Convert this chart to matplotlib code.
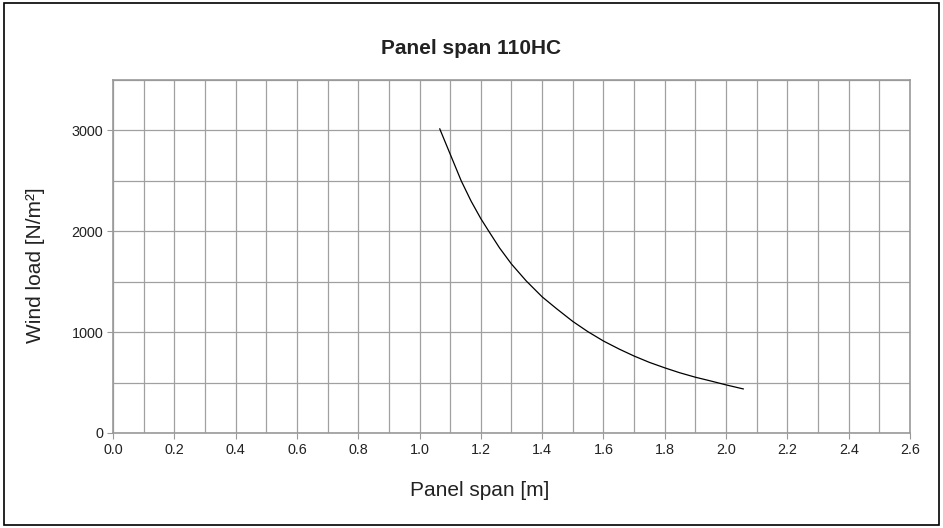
import matplotlib
matplotlib.use("Agg")
import matplotlib.pyplot as plt
from matplotlib.patches import Rectangle
from matplotlib.ticker import MultipleLocator, FormatStrFormatter

plt.rcParams['font.family'] = ['Liberation Sans', 'DejaVu Sans']

span = [1.066, 1.100, 1.136, 1.168, 1.200, 1.226, 1.261, 1.300, 1.348, 1.400,
        1.446, 1.500, 1.549, 1.600, 1.652, 1.700, 1.750, 1.800, 1.848, 1.900,
        1.951, 2.000, 2.056]
load = [3015, 2765, 2500, 2300, 2125, 2000, 1835, 1675, 1508, 1350,
        1235, 1106, 1005, 912, 831, 763, 700, 646, 598, 553,
        515, 477, 437]

title = "Panel span 110HC"
xlabel = "Panel span [m]"
ylabel = "Wind load [N/m²]"

fig = plt.figure(figsize=(9.43, 5.28), dpi=100)
ax = fig.add_axes([113/943, 95/528, 797/943, 353/528])

ax.plot(span, load, color='black', lw=0.9, solid_joinstyle='round')
ax.set_xlim(0, 2.6)
ax.set_ylim(0, 3500)
ax.xaxis.set_major_locator(MultipleLocator(0.2))
ax.xaxis.set_minor_locator(MultipleLocator(0.1))
ax.yaxis.set_major_locator(MultipleLocator(1000))
ax.yaxis.set_minor_locator(MultipleLocator(500))
ax.xaxis.set_major_formatter(FormatStrFormatter('%.1f'))
ax.grid(True, which='both', color='#a0a0a0', lw=0.9)
ax.set_axisbelow(True)
for s in ax.spines.values():
    s.set_color('#999999')
    s.set_linewidth(1.2)
ax.tick_params(which='major', length=4, color='#999999', labelsize=10.4,
               labelcolor='#222222', pad=3)
ax.tick_params(which='minor', length=0)

fig.text(0.5, 1 - 48/528, title, ha='center', va='center', fontsize=15,
         fontweight='bold', color='#222222')
fig.text(480/943, 1 - 491/528, xlabel, ha='center', va='center', fontsize=15,
         color='#222222')
fig.text(35.5/943, 1 - 265/528, ylabel, ha='center', va='center', rotation=90,
         fontsize=15, color='#222222')

fig.patches.append(Rectangle((4/943, 3/528), 935/943, 522/528, transform=fig.transFigure,
                             fill=False, edgecolor='black', lw=1.2))
fig.savefig('out.png', dpi=100)
